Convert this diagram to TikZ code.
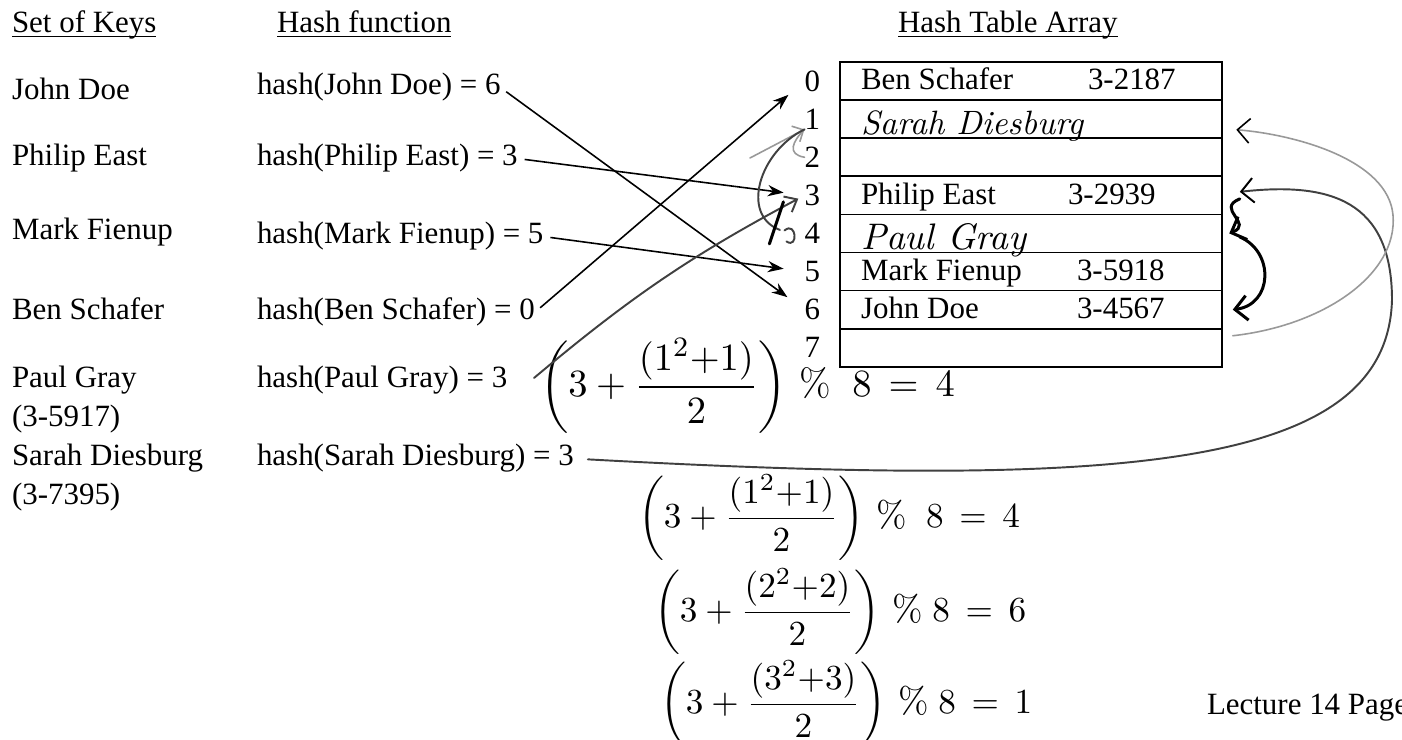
\documentclass[tikz,border=0pt]{standalone}
\usepackage{fontspec}
\usepackage{amsmath}
\usetikzlibrary{arrows.meta,positioning,calc}
\newfontfamily\printfont{Liberation Serif}
\newcommand{\typedfont}{\printfont\fontsize{8.8}{10.5}\selectfont}
\newcommand{\handfont}{\normalfont\itshape\fontsize{9.6}{11}\selectfont}
\newcommand{\sumfont}{\normalfont\fontsize{11}{13}\selectfont}
\newcommand{\hdline}[1]{\setbox0\hbox{#1}\rlap{\rule[-1.2pt]{\wd0}{0.35pt}}\box0}

\begin{document}
\begin{tikzpicture}[
  x=0.01cm, y=0.01cm,
  every node/.style={inner sep=0pt, outer sep=0pt},
  txt/.style={font=\typedfont, anchor=base west},
  idx/.style={font=\typedfont},
  cell/.style={draw, line width=0.5pt, minimum width=3.82cm, minimum height=0.381cm, anchor=north west},
  hand/.style={font=\handfont, anchor=base west},
  sum/.style={font=\sumfont, anchor=west},
  smallsum/.style={sum, font=\normalfont\fontsize{10.4}{12}\selectfont},
  arr/.style={-{Stealth[length=4.5pt,width=3.2pt]}, line width=0.45pt, shorten >=6pt, shorten <=2pt},
  pen/.style={line width=0.85pt, line cap=round},
  ink/.style={line width=0.55pt, black!75, line cap=round},
  faint/.style={line width=0.45pt, black!40, line cap=round},
  handtip/.style={-{Straight Barb[length=3.5pt,width=7pt,color=black]}}
]
\fill[white] (0,0) rectangle (1402,-740);
\useasboundingbox (0,0) rectangle (1402,-740);

% column heads
\node[txt] (hdKeys) at (12,-33) {\hdline{Set of Keys}};
\node[txt] (hdHash) at (277,-33) {\hdline{Hash function}};
\node[txt] (hdTable) at (898,-33) {\hdline{Hash Table Array}};

% keys
\node[txt] (kJohn) at (12,-100) {John Doe};
\node[txt] (kPhilip) at (12,-166) {Philip East};
\node[txt] (kMark) at (12,-240) {Mark Fienup};
\node[txt] (kBen) at (12,-320) {Ben Schafer};
\node[txt] (kPaul) at (12,-388) {Paul Gray};
\node[txt] (kPaulNo) at (12,-427) {(3-5917)};
\node[txt] (kSarah) at (12,-466) {Sarah Diesburg};
\node[txt] (kSarahNo) at (12,-505) {(3-7395)};

% hash values
\node[txt] (hJohn) at (257,-95) {hash(John Doe) = 6};
\node[txt] (hPhilip) at (257,-166) {hash(Philip East) = 3};
\node[txt] (hMark) at (257,-244) {hash(Mark Fienup) = 5};
\node[txt] (hBen) at (257,-320) {hash(Ben Schafer) = 0};
\node[txt] (hPaul) at (257,-388) {hash(Paul Gray) = 3};
\node[txt] (hSarah) at (257,-466) {hash(Sarah Diesburg) = 3};

% table
\foreach \r in {0,...,7}{
  \node[cell] (r\r) at (840,{-62-38.1*\r}) {};
  \node[idx, left=0.2cm of r\r] (i\r) {\r};
}
\node[txt] (tBen) at (861,-90) {Ben Schafer};
\node[txt] (pBen) at (1088,-90) {3-2187};
\node[hand] (tSarah) at (861,-135) {Sarah Diesburg};
\node[txt] (tPhilip) at (861,-205) {Philip East};
\node[txt] (pPhilip) at (1068,-205) {3-2939};
\node[hand, font=\normalfont\itshape\fontsize{10.5}{12}\selectfont] (tPaul) at (861,-250) {Paul Gray};
\node[txt] (tMark) at (861,-281) {Mark Fienup};
\node[txt] (pMark) at (1077,-281) {3-5918};
\node[txt] (tJohn) at (861,-319) {John Doe};
\node[txt] (pJohn) at (1077,-319) {3-4567};

% probe sums
\node[sum] (f1) at (540,-386) {$\left(3+\dfrac{(1^2{+}1)}{2}\right)\,\%\;\;8\,=\,4$};
\node[smallsum] (f2) at (638,-518) {$\left(3+\dfrac{(1^2{+}1)}{2}\right)\,\%\;\;8\,=\,4$};
\node[smallsum] (f3) at (654,-612) {$\left(3+\dfrac{(2^2{+}2)}{2}\right)\,\%\;8\,=\,6$};
\node[smallsum] (f4) at (660,-704) {$\left(3+\dfrac{(3^2{+}3)}{2}\right)\,\%\;8\,=\,1$};

\node[txt] (foot) at (1207,-715) {Lecture 14 Page};

% hash arrows
\draw[arr] (hJohn.east) -- (i6.west);
\draw[arr] (hPhilip.east) -- (i3.west);
\draw[arr] (hMark.east) -- (i5.west);
\draw[arr] (hBen.east) -- (i0.west);
\draw[ink, -{Straight Barb[length=3pt,width=5pt]}, shorten >=2pt] ([shift={(-6,8)}]f1.west) to[bend left=6] (i3.west);

% hand notes at the indices
\coordinate (dotA) at (750,-158);
\draw[faint, -{Straight Barb[length=2.5pt,width=5pt]}] (dotA) -- (i1.south west);
\draw[faint] (i2.west) .. controls +(-18,3) and +(-12,-12) .. (i1.south west);
\draw[ink] ([xshift=-7pt,yshift=1pt]i4.west) .. controls +(-40,15) and +(-45,-22) .. (i1.south west);
\draw[pen] ([xshift=-6pt,yshift=9pt]i4.west) -- ([xshift=-10pt,yshift=-3pt]i4.west);
\draw[ink] ([shift={(-20,3)}]i4.west) .. controls +(12,10) and +(12,-8) .. ([shift={(-18,-8)}]i4.west);

% probe curves on the right
\coordinate (bigbend) at (1392,-300);
\coordinate (thinbend) at (1393,-215);
\draw[ink, handtip, shorten <=4pt] (hSarah.east) .. controls +(550,-30) and +(-5,-170) .. (bigbend)
  .. controls +(0,100) and +(90,10) .. ([xshift=5pt,yshift=1pt]r3.east);
\draw[pen, handtip] ([xshift=5pt,yshift=-1pt]r3.east) .. controls +(-25,-10) and +(25,10) .. ([xshift=2pt]r4.east);
\draw[pen, handtip] ([xshift=5pt,yshift=-1pt]r4.east) .. controls +(35,-15) and +(40,5) .. ([xshift=3pt]r6.east);
\draw[faint, handtip] ([xshift=3pt,yshift=-2pt]r6.south east) .. controls +(90,10) and +(5,-60) .. (thinbend)
  .. controls +(-5,55) and +(60,-5) .. ([xshift=4pt,yshift=-3pt]r1.east);
\end{tikzpicture}
\end{document}
